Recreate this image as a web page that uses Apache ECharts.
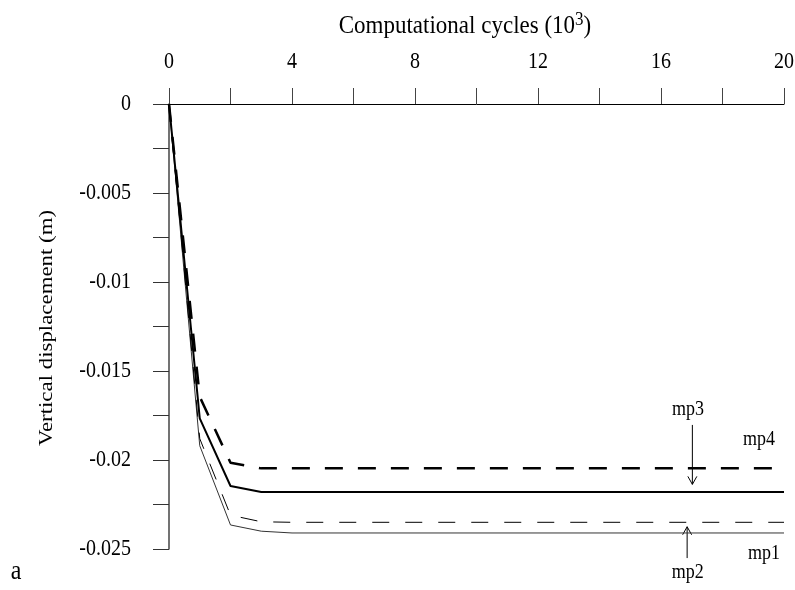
<!DOCTYPE html>
<html>
<head>
<meta charset="utf-8">
<script src="https://cdn.jsdelivr.net/npm/echarts@6/dist/echarts.min.js"></script>
<style>
html,body{margin:0;padding:0;background:#fff;}
#chart{width:795px;height:590px;}
</style>
</head>
<body>
<div id="chart"></div>
<script>
// Data
var cycles = [0, 1, 2, 3, 4, 20];               // computational cycles (10^3)
var mp1 = [0, -0.0192, -0.02365, -0.0240, -0.0241, -0.0241];
var mp2 = [0, -0.0188, -0.0231, -0.02347, -0.0235, -0.0235];
var mp3 = [0, -0.01766, -0.02146, -0.0218, -0.0218, -0.0218];
var mp4 = [0, -0.01645, -0.02015, -0.02047, -0.02047, -0.02047];
var xTickValues = [0, 4, 8, 12, 16, 20];
var xTickLabels = ['0', '4', '8', '12', '16', '20'];
var yTickValues = [0, -0.005, -0.01, -0.015, -0.02, -0.025];
var yTickLabels = ['0', '-0.005', '-0.01', '-0.015', '-0.02', '-0.025'];
var xTitle = 'Computational cycles (10';
var xTitleSup = '3';
var xTitleEnd = ')';
var yTitle = 'Vertical displacement (m)';

// annotations (data units)
var annoText = ['mp3', 'mp4', 'mp1', 'mp2'];
var annoX = [16.88, 19.19, 19.35, 16.87];
var annoY = [-0.01719, -0.01884, -0.02524, -0.02633];
var arrowX = [17.02, 16.85];
var arrowFrom = [-0.01803, -0.02551];
var arrowTo = [-0.02137, -0.02375];

function pairs(ys) { return cycles.map(function (x, i) { return [x, ys[i]]; }); }

var FONT = 'Liberation Serif';
var chart = echarts.init(document.getElementById('chart'));
var option = {
  animation: false,
  backgroundColor: '#fff',
  grid: { left: 169, right: 11, top: 104, bottom: 41 },
  xAxis: {
    type: 'value', position: 'top', min: 0, max: 20, interval: 2,
    axisLine: { onZero: false, lineStyle: { color: '#000', width: 1 } },
    axisTick: { show: true, length: 16, inside: false, lineStyle: { color: '#444' } },
    splitLine: { show: false },
    axisLabel: { show: false }
  },
  yAxis: {
    type: 'value', min: -0.025, max: 0, interval: 0.0025,
    axisLine: { onZero: false, lineStyle: { color: '#444', width: 1.5 } },
    axisTick: { show: true, length: 16, inside: false, lineStyle: { color: '#333' } },
    splitLine: { show: false },
    axisLabel: { show: false }
  },
  series: [
    { name: 'mp1', type: 'line', data: pairs(mp1), symbol: 'none', lineStyle: { color: '#333', width: 1 } },
    { name: 'mp2', type: 'line', data: pairs(mp2), symbol: 'none', lineStyle: { color: '#000', width: 1, type: [17, 16] } },
    { name: 'mp3', type: 'line', data: pairs(mp3), symbol: 'none', lineStyle: { color: '#000', width: 2 } },
    { name: 'mp4', type: 'line', data: pairs(mp4), symbol: 'none', lineStyle: { color: '#000', width: 2.5, type: [18, 15] } }
  ]
};
chart.setOption(option);

function px(x, y) { return chart.convertToPixel({ gridIndex: 0 }, [x, y]); }
var g = [];
// tick labels (stretched serif to match the reference's tall glyphs)
xTickValues.forEach(function (v, i) {
  var p = px(v, 0);
  g.push({ type: 'text', x: p[0], y: 62, scaleY: 1.2,
    style: { text: xTickLabels[i], fontFamily: FONT, fontSize: 20, fill: '#000', align: 'center', verticalAlign: 'middle' } });
});
yTickValues.forEach(function (v, i) {
  var p = px(0, v);
  g.push({ type: 'text', x: 131, y: p[1], scaleY: 1.2,
    style: { text: yTickLabels[i], fontFamily: FONT, fontSize: 20, fill: '#000', align: 'right', verticalAlign: 'middle' } });
});
// axis titles
g.push({ type: 'text', x: 465, y: 26, scaleY: 1.12,
  style: { text: xTitle + '{sup|' + xTitleSup + '}' + xTitleEnd, fontFamily: FONT, fontSize: 23, fill: '#000', align: 'center', verticalAlign: 'middle',
    rich: { sup: { fontFamily: FONT, fontSize: 17, fill: '#000', verticalAlign: 'bottom', padding: [0, 0, 10, 0] } } } });
g.push({ type: 'text', x: 47, y: 328, rotation: Math.PI / 2, scaleX: 1.27,
  style: { text: yTitle, fontFamily: FONT, fontSize: 18, fill: '#000', align: 'center', verticalAlign: 'middle' } });
// annotations
annoText.forEach(function (t, i) {
  var p = px(annoX[i], annoY[i]);
  g.push({ type: 'text', x: p[0], y: p[1], scaleY: 1.15,
    style: { text: t, fontFamily: FONT, fontSize: 18, fill: '#000', align: 'center', verticalAlign: 'middle' } });
});
arrowX.forEach(function (x, i) {
  var a = px(x, arrowFrom[i]);
  var b = px(x, arrowTo[i]);
  var dir = b[1] > a[1] ? -1 : 1;
  g.push({ type: 'line', shape: { x1: a[0], y1: a[1], x2: b[0], y2: b[1] }, style: { stroke: '#000', lineWidth: 1 } });
  g.push({ type: 'polyline', shape: { points: [[b[0] - 4.5, b[1] + dir * 8], [b[0], b[1]], [b[0] + 4.5, b[1] + dir * 8]] }, style: { stroke: '#000', lineWidth: 1, fill: null } });
});
g.push({ type: 'text', x: 16, y: 572, scaleY: 1.1, style: { text: 'a', fontFamily: FONT, fontSize: 24, fill: '#000', align: 'center', verticalAlign: 'middle' } });
chart.setOption({ graphic: g });
</script>
</body>
</html>
